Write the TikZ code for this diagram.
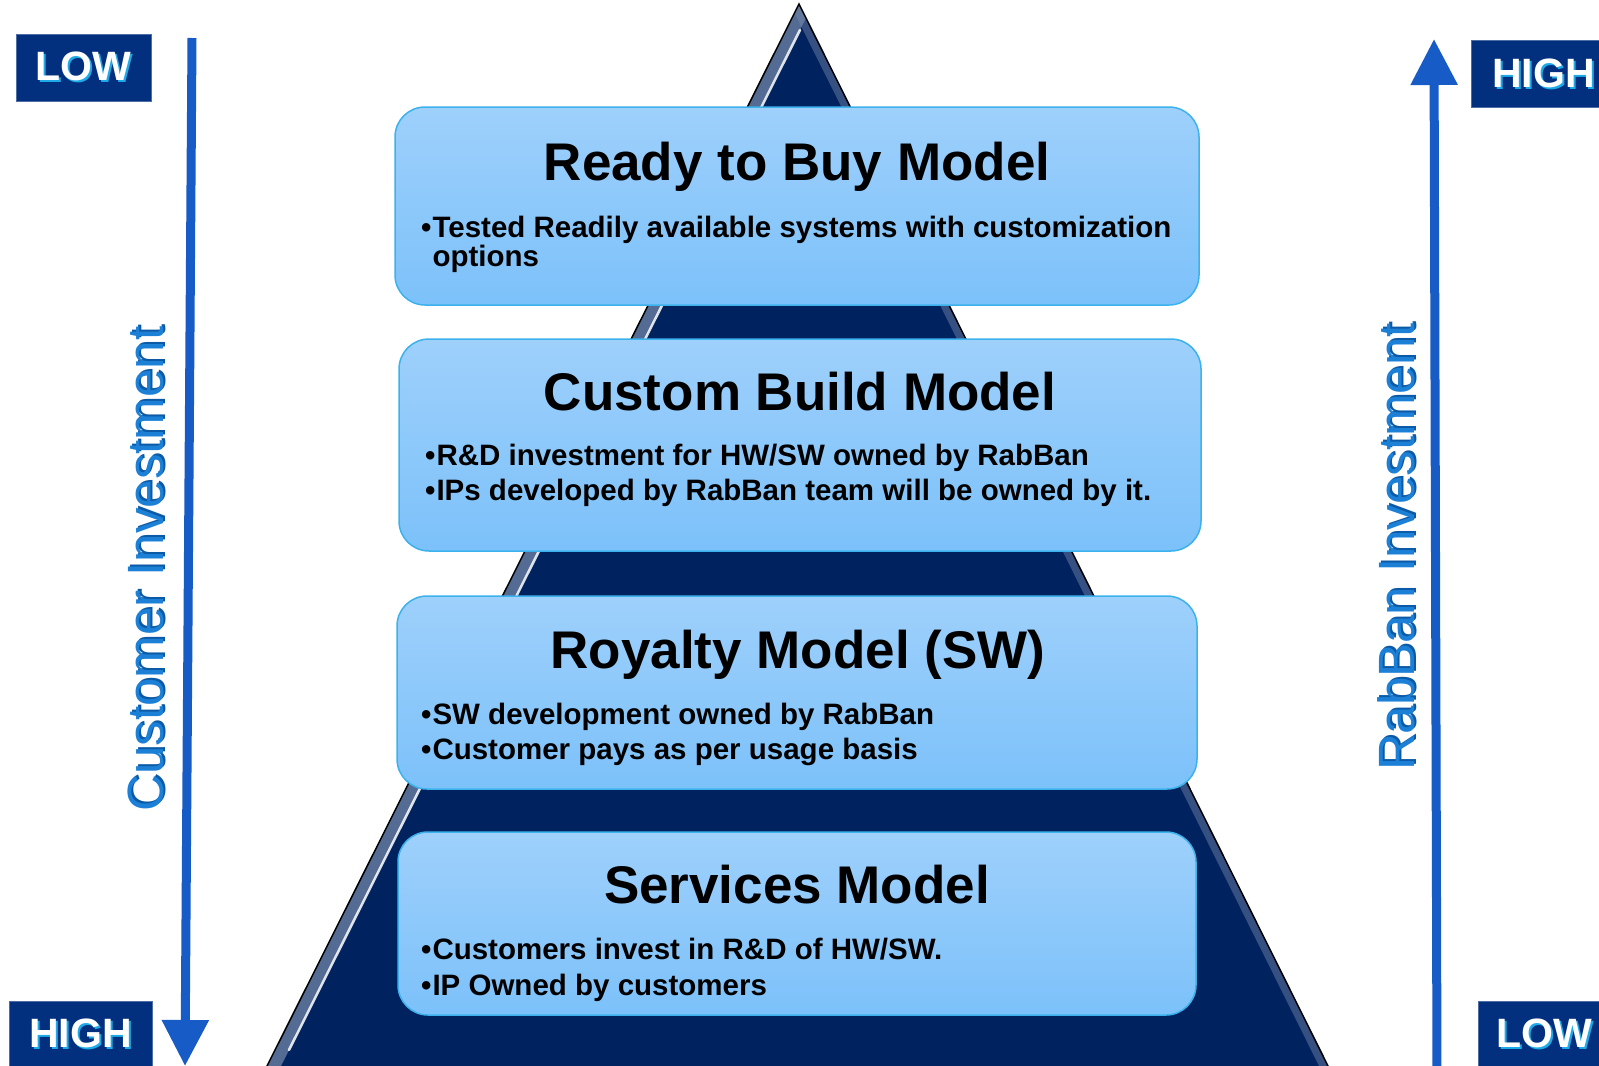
\documentclass[tikz,border=0pt]{standalone}
\usepackage{fontspec}
\setmainfont{Liberation Sans}
\usetikzlibrary{arrows.meta}

\definecolor{navy}{RGB}{0,35,96}
\definecolor{bevel}{RGB}{120,138,170}
\definecolor{tagblue}{RGB}{2,47,126}
\definecolor{tagcyan}{RGB}{30,170,232}
\definecolor{arrowblue}{RGB}{23,92,198}
\definecolor{labelblue}{RGB}{28,128,214}
\definecolor{labelshade}{RGB}{12,90,165}
\definecolor{boxtop}{RGB}{158,208,251}
\definecolor{boxbottom}{RGB}{124,193,250}
\definecolor{boxline}{RGB}{60,178,236}

% text with a coloured copy just behind it
\newcommand{\shadowtext}[3]{\rlap{\kern2pt\raisebox{-2pt}{\color{#1}#3}}{\color{#2}#3}}
% bullet mark in front of a point
\newcommand{\pt}{•\kern1pt}

\tikzstyle{tag}        = [rectangle, draw=tagblue!70!white, fill=tagblue, minimum height=67pt, inner sep=0pt, font=\fontsize{41}{41}\selectfont\bfseries]
\tikzstyle{model}      = [rectangle, rounded corners=30pt, draw=boxline, line width=1.5pt, top color=boxtop, bottom color=boxbottom]
\tikzstyle{modeltitle} = [anchor=base, inner sep=0pt, font=\fontsize{53}{53}\selectfont\bfseries]
\tikzstyle{modelpoint} = [anchor=base west, inner sep=0pt, font=\fontsize{29.5}{29.5}\selectfont\bfseries]
\tikzstyle{axislabel}  = [rotate=90, inner sep=0pt, font=\fontsize{51}{51}\selectfont]
\tikzstyle{trend}      = [draw=arrowblue, line width=9pt, -{Triangle[width=45pt, length=46pt]}]

\begin{document}
\begin{tikzpicture}[x=1pt, y=-1pt]
    \useasboundingbox (0,0) rectangle (1599,1066);

    % pyramid
    \coordinate (apex) at (799,4);
    \coordinate (baseL) at (264,1072);
    \coordinate (baseR) at (1331,1072);
    \fill[navy] (apex) -- (baseL) -- (baseR) -- cycle;
    \begin{scope}
        \clip (apex) -- (baseL) -- (baseR) -- cycle;
        \draw[bevel, line width=25pt, opacity=0.7] (apex) -- (baseL);
        \draw[bevel, line width=16pt, opacity=0.45] (apex) -- (baseR);
    \end{scope}
    \draw[white, line width=2.5pt, opacity=0.85, line cap=round] (800,30) -- (289,1050);
    \draw[black, line width=1.5pt] (baseL) -- (apex) -- (baseR);

    % models
    \node[model, minimum width=804pt, minimum height=198pt] (ready) at (797,206) {};
    \node[modeltitle] (readytitle) at (797,180) {Ready to Buy Model};
    \node[modelpoint] (readyone) at (421,237) {\pt Tested Readily available systems with customization};
    \node[modelpoint] (readytwo) at (421,266) {\phantom{\pt}options};

    \node[model, minimum width=802pt, minimum height=212pt] (custom) at (800,445) {};
    \node[modeltitle] (customtitle) at (800,410) {Custom Build Model};
    \node[modelpoint] (customone) at (425,465) {\pt R\&D investment for HW/SW owned by RabBan};
    \node[modelpoint] (customtwo) at (425,500) {\pt IPs developed by RabBan team will be owned by it.};

    \node[model, minimum width=800pt, minimum height=193pt] (royalty) at (797,692.5) {};
    \node[modeltitle] (royaltytitle) at (798,668) {Royalty Model (SW)};
    \node[modelpoint] (royaltyone) at (421,724) {\pt SW development owned by RabBan};
    \node[modelpoint] (royaltytwo) at (421,759.5) {\pt Customer pays as per usage basis};

    \node[model, minimum width=798pt, minimum height=183pt] (services) at (797,923.5) {};
    \node[modeltitle] (servicestitle) at (797,903) {Services Model};
    \node[modelpoint] (servicesone) at (421,959.5) {\pt Customers invest in R\&D of HW/SW.};
    \node[modelpoint] (servicestwo) at (421,995) {\pt IP Owned by customers};

    % investment axes
    \coordinate (custstart) at (192,38);
    \coordinate (custend) at (185,1066);
    \draw[trend] (custstart) -- (custend);
    \coordinate (rabstart) at (1437,1075);
    \coordinate (rabend) at (1434,39);
    \draw[trend] (rabstart) -- (rabend);

    \node[axislabel] (custlabel) at (147,569) {\shadowtext{labelshade}{labelblue}{Customer Investment}};
    \node[axislabel] (rablabel) at (1397,547) {\shadowtext{labelshade}{labelblue}{RabBan Investment}};

    \node[tag, minimum width=135pt] (custlow) at (83.5,67.5) {\shadowtext{tagcyan}{white}{LOW}};
    \node[tag, minimum width=143pt] (custhigh) at (80.5,1034.5) {\shadowtext{tagcyan}{white}{HIGH}};
    \node[tag, minimum width=145pt] (rabhigh) at (1543.5,74) {\shadowtext{tagcyan}{white}{HIGH}};
    \node[tag, minimum width=132pt] (rablow) at (1544,1034.5) {\shadowtext{tagcyan}{white}{LOW}};
\end{tikzpicture}
\end{document}
